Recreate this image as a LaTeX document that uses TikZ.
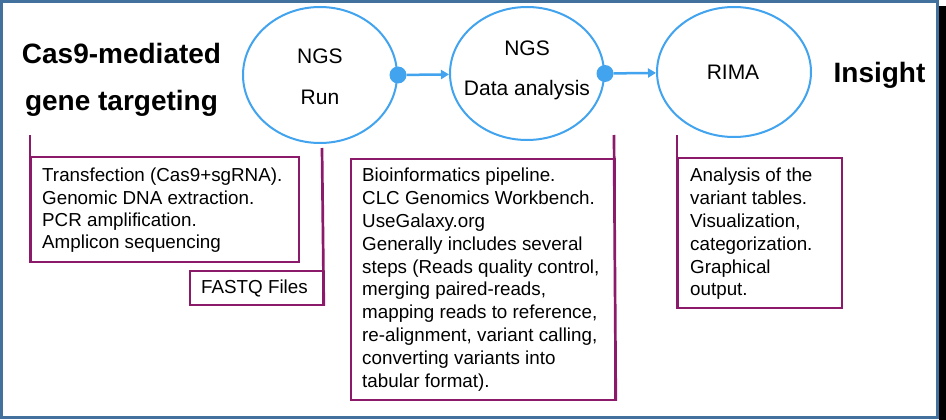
\documentclass[tikz,border=0pt]{standalone}
\usepackage{fontspec}
\setmainfont{Liberation Sans}
\usetikzlibrary{arrows.meta,shapes.geometric}
\definecolor{frameblue}{RGB}{65,113,156}
\definecolor{ellblue}{RGB}{66,163,238}
\definecolor{boxplum}{RGB}{139,26,107}
\begin{document}
\begin{tikzpicture}[x=1pt,y=-1pt,
  ell/.style={ellipse, draw=ellblue, line width=2pt, inner sep=0pt, fill=white},
  elltxt/.style={inner sep=0pt, align=center, font=\fontsize{21}{40.5}\selectfont},
  dotnode/.style={circle, fill=ellblue, inner sep=0pt, minimum size=17pt},
  arr/.style={draw=ellblue, line width=2.5pt, -{Triangle[length=8pt,width=9pt]}},
  box/.style={draw=boxplum, line width=1.8pt, fill=white, inner sep=0pt, anchor=north west},
  bar/.style={draw=boxplum, line width=2.7pt},
  boxtxt/.style={inner sep=0pt, align=left, anchor=north west, font=\fontsize{18.8}{22.8}\selectfont},
  head/.style={inner sep=0pt, font=\fontsize{28}{47}\selectfont\bfseries}
]
\useasboundingbox (0,0) rectangle (946,420);
\fill[white] (0,0) rectangle (946,420);
\fill[black] (939,6) rectangle (946,420);
\draw[frameblue, line width=3pt] (1.5,1.5) rectangle (937.5,417.5);

% headings
\node[head, align=center, anchor=north] (h1) at (121.5,42.4) {\rule{0pt}{20.6pt}Cas9-mediated\\gene targeting};
\node[head, anchor=base] (h2) at (879.5,83) {Insight};

% ellipses
\node[ell, minimum width=154pt, minimum height=136pt] (e1) at (320,75) {};
\node[ell, minimum width=154pt, minimum height=133pt] (e2) at (527,73.5) {};
\node[ell, minimum width=154pt, minimum height=130pt] (e3) at (734,72) {};

\node[elltxt, anchor=north] (e1t) at (320,47.8) {\rule{0pt}{15.5pt}NGS\\Run};
\node[elltxt, anchor=north] (e2t) at (527,39.5) {\rule{0pt}{15.5pt}NGS\\Data analysis};
\node[elltxt, anchor=base] (e3t) at (733,80) {RIMA};

% dots and arrows
\node[dotnode] (d1) at (e1.east) {};
\node[dotnode] (d2) at (e2.east) {};
\draw[arr] (d1) -- (e2);
\draw[arr] (d2) -- (e3);

% callout boxes
\node[box, minimum width=268pt, minimum height=105pt] (t1) at (30,156) {};
\coordinate (t1top) at (30,135);
\draw[bar] (t1top) -- (t1.south west);
\node[boxtxt, font=\fontsize{18.8}{22.3}\selectfont] (t1t) at (42,167.7) {\rule{0pt}{14pt}Transfection (Cas9+sgRNA).\\Genomic DNA extraction.\\PCR amplification.\\Amplicon sequencing};

\node[box, minimum width=133pt, minimum height=34pt] (fq) at (189,270) {};
\coordinate (fqtop) at (322,148);
\draw[bar] (fqtop) -- (fq.south east);
\node[inner sep=0pt, anchor=base west, font=\fontsize{18.8}{22.8}\selectfont] (fqt) at (201,293) {FASTQ Files};

\node[box, minimum width=264pt, minimum height=241pt] (bio) at (350,158) {};
\coordinate (biotop) at (614,135);
\draw[bar] (biotop) -- (bio.south east);
\node[boxtxt] (biot) at (362,167.7) {\rule{0pt}{14pt}Bioinformatics pipeline.\\CLC Genomics Workbench.\\UseGalaxy.org\\Generally includes several\\steps (Reads quality control,\\merging paired-reads,\\mapping reads to reference,\\re-alignment, variant calling,\\converting variants into\\tabular format).};

\node[box, minimum width=164pt, minimum height=150pt] (rima) at (677,157) {};
\coordinate (rimatop) at (677,135);
\draw[bar] (rimatop) -- (rima.south west);
\node[boxtxt] (rimat) at (690,167.7) {\rule{0pt}{14pt}Analysis of the\\variant tables.\\Visualization,\\categorization.\\Graphical\\output.};
\end{tikzpicture}
\end{document}
